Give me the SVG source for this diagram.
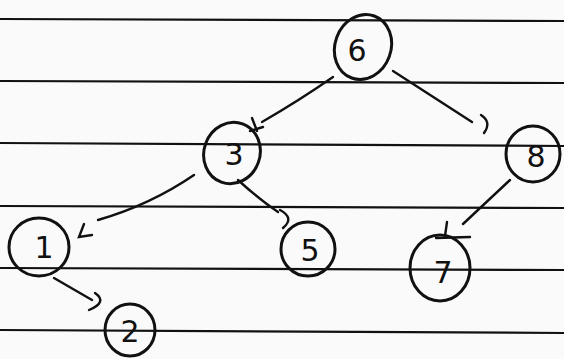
<svg xmlns="http://www.w3.org/2000/svg" width="564" height="359" viewBox="0 0 564 359">
<style>
.rule{stroke:#111;stroke-width:2.2}
.node ellipse{fill:none;stroke:#111;stroke-width:3}
.node text{font-family:"DejaVu Sans","Liberation Sans",sans-serif;font-size:30px;fill:#111;text-anchor:middle;dominant-baseline:central}
.edge{fill:none;stroke:#111;stroke-width:2.4;stroke-linecap:round}
</style>
<rect width="564" height="359" fill="#fafafa"/>
<g id="paper-lines">
<line class="rule" x1="0" y1="19" x2="564" y2="21"/>
<line class="rule" x1="0" y1="81" x2="564" y2="83"/>
<line class="rule" x1="0" y1="143" x2="564" y2="146"/>
<line class="rule" x1="0" y1="206" x2="564" y2="208"/>
<line class="rule" x1="0" y1="268" x2="564" y2="270"/>
<line class="rule" x1="0" y1="330" x2="564" y2="333"/>
</g>
<g id="connectors">
<path class="edge" d="M333 77 Q300 100 262 122"/>
<path class="edge" d="M252 118 L257 131 M250 131 L263 127"/>
<path class="edge" d="M393 71 L472 122"/>
<path class="edge" d="M481 115 Q492 122 484 133"/>
<path class="edge" d="M194 175 Q150 205 98 220"/>
<path class="edge" d="M84 224 L79 237 L92 235"/>
<path class="edge" d="M238 180 Q260 200 278 212"/>
<path class="edge" d="M280 210 Q295 218 283 228"/>
<path class="edge" d="M510 180 L463 224"/>
<path class="edge" d="M447 222 L445 236 M436 238 L470 237"/>
<path class="edge" d="M54 278 L92 300"/>
<path class="edge" d="M95 293 Q108 302 89 310"/>
</g>
<g id="node-6" class="node"><ellipse cx="363" cy="47" rx="28" ry="33" transform="rotate(20 363 47)"/><text x="357" y="50">6</text></g>
<g id="node-3" class="node"><ellipse cx="232" cy="153" rx="28" ry="31" transform="rotate(20 232 153)"/><text x="234" y="154">3</text></g>
<g id="node-8" class="node"><ellipse cx="533" cy="154" rx="27" ry="28"/><text x="536" y="156">8</text></g>
<g id="node-1" class="node"><ellipse cx="39" cy="247" rx="30" ry="29"/><text x="44" y="247">1</text></g>
<g id="node-5" class="node"><ellipse cx="308" cy="249" rx="27" ry="27"/><text x="310" y="250">5</text></g>
<g id="node-7" class="node"><ellipse cx="440" cy="268" rx="30" ry="33"/><text x="443" y="272">7</text></g>
<g id="node-2" class="node"><ellipse cx="130" cy="330" rx="25" ry="26"/><text x="130" y="331">2</text></g>
</svg>
